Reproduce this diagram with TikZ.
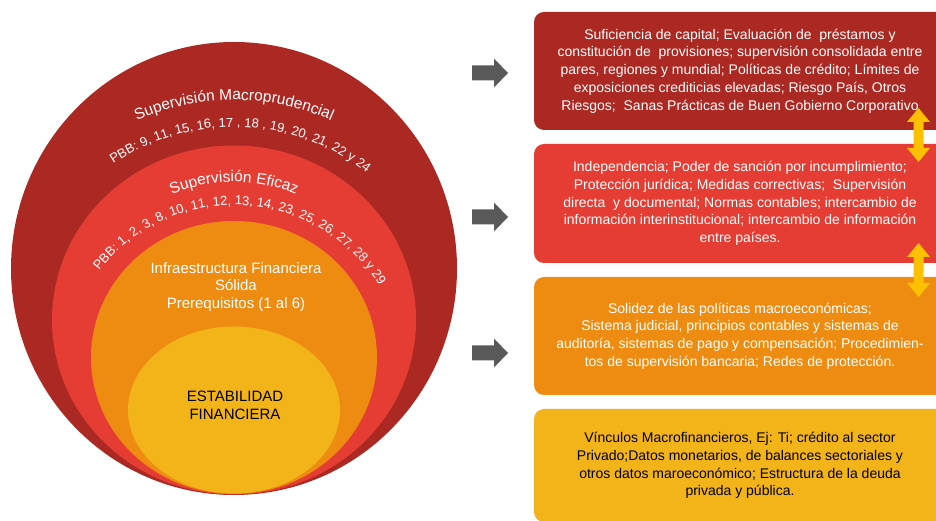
\documentclass[tikz,border=0pt]{standalone}
\usepackage{fontspec}
\setmainfont{Liberation Sans}
\usetikzlibrary{decorations.text}
\definecolor{cdark}{HTML}{AB2922}
\definecolor{cred}{HTML}{E53D33}
\definecolor{corange}{HTML}{EE8C12}
\definecolor{cyellow}{HTML}{F2B418}
\definecolor{cgold}{HTML}{FFC000}
\definecolor{cgray}{HTML}{595959}
\newcommand{\boxfont}{\fontsize{14}{17.7}\selectfont}
\newcommand{\ttlfont}{\fontsize{15.5}{18}\selectfont\color{white}}
\newcommand{\pbbfont}{\fontsize{13}{16}\selectfont\color{white}}
\begin{document}
\begin{tikzpicture}[x=1pt,y=1pt,
  infobox/.style={rounded corners=10pt, minimum width=412pt, align=center, font=\boxfont, inner sep=0pt},
  arctext/.style={decorate, decoration={text along path, text align=center, text={#1}}}]
\useasboundingbox (0,0) rectangle (936,521);
\clip (0,0) rectangle (936,521);
% nested circles
\fill[cdark] (234,252.5) ellipse [x radius=223, y radius=226.5];
\fill[cred] (234,201) ellipse [x radius=182, y radius=174.5];
\fill[corange] (234,163.5) ellipse [x radius=143, y radius=136.5];
\fill[cyellow] (234,111) ellipse [x radius=106, y radius=83.5];
% curved texts
\path[arctext={|\ttlfont|Supervisión Macroprudencial}] (234,181) ++(150:240) arc[start angle=150, end angle=30, radius=240];
\path[arctext={|\pbbfont|PBB: 9, 11, 15, 16, 17 , 18 , 19, 20, 21, 22 y 24}] (234,179) ++(158:215) arc[start angle=158, end angle=18, radius=215];
\path[arctext={|\ttlfont|Supervisión Eficaz}] (234,179) ++(160:160) arc[start angle=160, end angle=20, radius=160];
\path[arctext={|\pbbfont|PBB: 1, 2, 3, 8, 10, 11, 12, 13, 14, 23, 25, 26, 27, 28 y 29}] (234,145) ++(177:171) arc[start angle=177, end angle=-3, radius=171];
% inner texts
\node[align=center, text=white, font=\fontsize{15}{17.5}\selectfont] (infra) at (236,234) {Infraestructura Financiera\\Sólida\\Prerequisitos (1 al 6)};
\node[align=center, text=black, font=\fontsize{15}{18}\selectfont] (estab) at (235,116) {ESTABILIDAD\\FINANCIERA};
% boxes
\node[infobox, fill=cdark, text=white, minimum height=118pt] (b1) at (740,450) {Suficiencia de capital; Evaluación de \ préstamos y\\constitución de \ provisiones; supervisión consolidada entre\\pares, regiones y mundial; Políticas de crédito; Límites de\\exposiciones crediticias elevadas; Riesgo País, Otros\\Riesgos; \ Sanas Prácticas de Buen Gobierno Corporativo};
\node[infobox, fill=cred, text=white, minimum height=119pt] (b2) at (740,317.5) {Independencia; Poder de sanción por incumplimiento;\\Protección jurídica; Medidas correctivas; \ Supervisión\\directa \ y documental; Normas contables; intercambio de\\información interinstitucional; intercambio de información\\entre países.};
\node[infobox, fill=corange, text=white, minimum height=118pt] (b3) at (740,185) {Solidez de las políticas macroeconómicas;\\Sistema judicial, principios contables y sistemas de\\auditoría, sistemas de pago y compensación; Procedimien-\\tos de supervisión bancaria; Redes de protección.};
\node[infobox, fill=cyellow, text=black, minimum height=113pt] (b4) at (740,55.5) {Vínculos Macrofinancieros, Ej: Ti; crédito al sector\\Privado;Datos monetarios, de balances sectoriales y\\otros datos maroeconómico; Estructura de la deuda\\privada y pública.};
% gray arrows
\foreach \yy in {448,304,168}{
  \fill[cgray] (472,\yy+7.5) -- (494,\yy+7.5) -- (494,\yy+14.5) -- (508,\yy) -- (494,\yy-14.5) -- (494,\yy-7.5) -- (472,\yy-7.5) -- cycle;
}
% double arrows
\foreach \ta/\hb/\lb/\bt in {413/399/373/359, 278/264/238/224}{
  \fill[cgold] (918.5,\ta) -- (930,\hb) -- (923.5,\hb) -- (923.5,\lb) -- (930,\lb) -- (918.5,\bt) -- (907,\lb) -- (913.5,\lb) -- (913.5,\hb) -- (907,\hb) -- cycle;
}
\end{tikzpicture}
\end{document}
